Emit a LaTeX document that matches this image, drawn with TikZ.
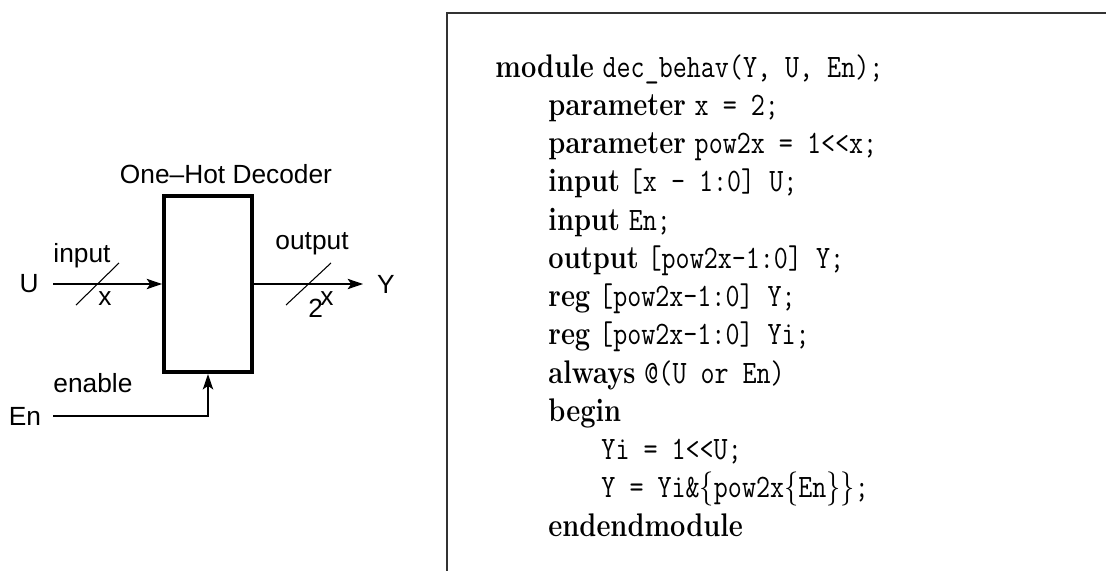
\documentclass[tikz,border=0pt]{standalone}
\usepackage{fontspec}
\usepackage{graphicx}
\newfontfamily\helv{Liberation Sans}
\usetikzlibrary{arrows.meta, positioning}
\newcommand{\tall}[1]{\scalebox{1}[1.2]{#1}}

\begin{document}
\begin{tikzpicture}[x=0.422pt, y=-0.422pt,
    decoder/.style={draw, line width=1.7pt, minimum width=37.1pt, minimum height=74.3pt},
    lbl/.style={inner sep=0pt, font=\helv\fontsize{11.1}{13}\selectfont},
    code/.style={inner sep=0pt, anchor=base west, font=\fontsize{11.5}{13}\selectfont},
    wire/.style={line width=0.45pt},
    >={Stealth[length=6.5pt, width=4.4pt, inset=1.5pt]}]
  \useasboundingbox (0,0) rectangle (1106,571);

  % block diagram
  \node[decoder] (dec) at (208,284) {};
  \node[lbl, anchor=base] (title) at (226,183) {One\textendash Hot Decoder};
  \node[lbl] (u) at (29,284) {U};
  \node[lbl] (y) at (386,284) {Y};
  \node[lbl] (en) at (25,416) {En};
  \coordinate (uin) at (53,284);
  \coordinate (yout) at (363,284);
  \coordinate (enin) at (53,416);
  \draw[wire, ->] (uin) -- (dec.west);
  \draw[wire, ->] (dec.east) -- (yout);
  \draw[wire, ->] (enin) -| (dec.south);

  % bus widths
  \coordinate (ubus) at (97.5,284);
  \coordinate (ybus) at (308.5,284);
  \draw[wire] ([shift={(-21.5,21)}]ubus) -- ([shift={(21.5,-21)}]ubus);
  \draw[wire] ([shift={(-22.5,21)}]ybus) -- ([shift={(22.5,-21)}]ybus);
  \node[lbl, anchor=base west] (inlbl) at (53,262) {input};
  \node[lbl, anchor=base west] (ulbl) at (98,305) {x};
  \node[lbl, anchor=base west] (outlbl) at (275,249) {output};
  \node[lbl, anchor=base west] (ylbl) at (308,317) {2\kern-1.2pt\raisebox{4.8pt}{x}};
  \node[lbl, anchor=base west] (enlbl) at (53,393) {enable};

  % code frame
  \draw[line width=0.8pt, black!80] (447,571) -- (447,13) -- (1106,13);

  % verilog listing
  \node[code] (c1) at (495,77) {\tall{\textbf{module} \texttt{dec\_behav(Y, U, En);}}};
  \node[code] (c2) at (548,{77+38.25*1}) {\tall{\textbf{parameter} \texttt{x = 2;}}};
  \node[code] (c3) at (548,{77+38.25*2}) {\tall{\textbf{parameter} \texttt{pow2x = 1<{}<x;}}};
  \node[code] (c4) at (548,{77+38.25*3}) {\tall{\textbf{input} \texttt{[x - 1:0] U;}}};
  \node[code] (c5) at (548,{77+38.25*4}) {\tall{\textbf{input} \texttt{En;}}};
  \node[code] (c6) at (548,{77+38.25*5}) {\tall{\textbf{output} \texttt{[pow2x-1:0] Y;}}};
  \node[code] (c7) at (548,{77+38.25*6}) {\tall{\textbf{reg} \texttt{[pow2x-1:0] Y;}}};
  \node[code] (c8) at (548,{77+38.25*7}) {\tall{\textbf{reg} \texttt{[pow2x-1:0] Yi;}}};
  \node[code] (c9) at (548,{77+38.25*8}) {\tall{\textbf{always} \texttt{@(U or En)}}};
  \node[code] (c10) at (548,{77+38.25*9}) {\tall{\textbf{begin}}};
  \node[code] (c11) at (601,{77+38.25*10}) {\tall{\texttt{Yi = 1<{}<U;}}};
  \node[code] (c12) at (601,{77+38.25*11}) {\tall{\texttt{Y = Yi\&}$\{$\texttt{pow2x}$\{$\texttt{En}$\}\}$\texttt{;}}};
  \node[code] (c13) at (548,{77+38.25*12}) {\tall{\textbf{endendmodule}}};
\end{tikzpicture}
\end{document}
